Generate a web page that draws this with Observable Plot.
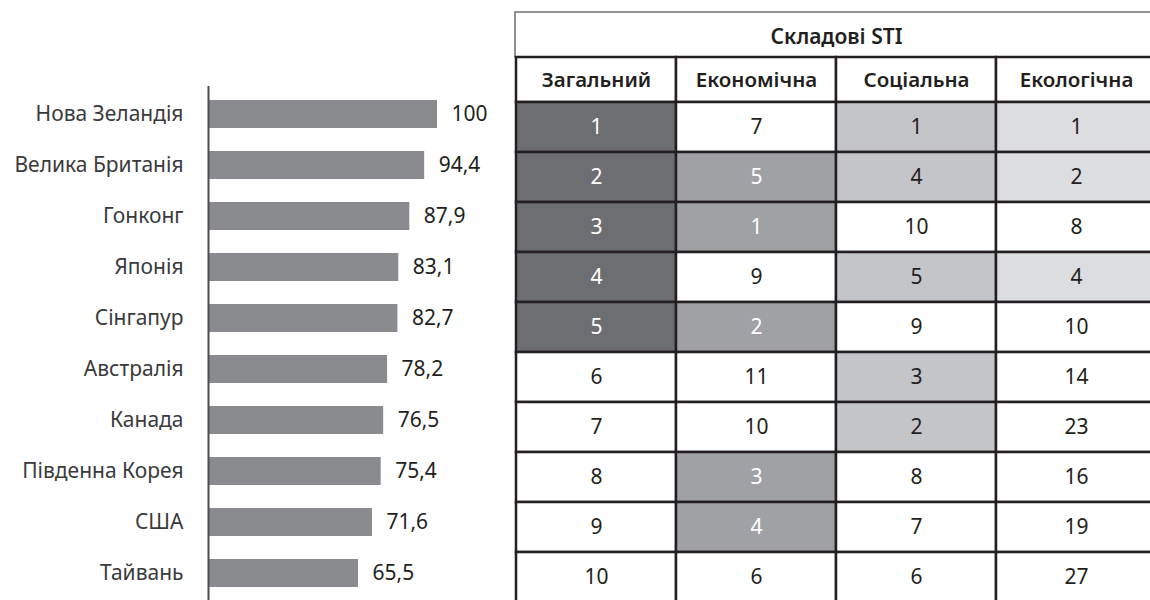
<!DOCTYPE html>
<html>
<head>
<meta charset="utf-8">
<script src="https://cdn.jsdelivr.net/npm/d3@7"></script>
<script src="https://cdn.jsdelivr.net/npm/@observablehq/plot@0.6"></script>
<style>
  html, body { margin: 0; padding: 0; background: #fff; }
  body { width: 1150px; height: 600px; overflow: hidden; position: relative; }
  #bars { position: absolute; left: 0; top: 0; }
  #table { position: absolute; left: 505px; top: 0; width: 652px; height: 600px; overflow: hidden; }
  svg { overflow: visible; }
</style>
</head>
<body>
<div id="bars"></div>
<div id="table"></div>
<script>
// ---- data ----
const countries = ["Нова Зеландія", "Велика Британія", "Гонконг", "Японія", "Сінгапур", "Австралія", "Канада", "Південна Корея", "США", "Тайвань"];
const stiScores = [100, 94.4, 87.9, 83.1, 82.7, 78.2, 76.5, 75.4, 71.6, 65.5];

const tableTitle = "Складові STI";
const columns = ["Загальний", "Економічна", "Соціальна", "Екологічна"];
const overallRank = [1, 2, 3, 4, 5, 6, 7, 8, 9, 10];
const economicRank = [7, 5, 1, 9, 2, 11, 10, 3, 4, 6];
const socialRank = [1, 4, 10, 5, 9, 3, 2, 8, 7, 6];
const ecologicalRank = [1, 2, 8, 4, 10, 14, 23, 16, 19, 27];
const topRankLimit = 5;

// ---- styles ----
const font = "'Noto Sans', 'Open Sans', sans-serif";
const ink = "#231f20";
const colFill = ["#6d6e71", "#a0a1a4", "#c4c5c8", "#dcdddf"];
const colText = ["#ffffff", "#ffffff", ink, ink];
const fmt = v => String(v).replace(".", ",");

// ---- bar chart ----
const barRows = countries.map((c, i) => ({country: c, value: stiScores[i]}));
const bars = Plot.plot({
  width: 515, height: 600,
  marginTop: 86, marginBottom: 0, marginLeft: 208, marginRight: 78,
  style: {fontFamily: font, background: "transparent"},
  x: {domain: [0, 100], axis: null},
  y: {domain: countries, paddingInner: 0.455, paddingOuter: 0.2275, align: 0.5, axis: null},
  marks: [
    Plot.barX(barRows, {x: "value", y: "country", fill: "#8a8b8e", insetLeft: 1}),
    Plot.text(barRows, {x: "value", y: "country", text: d => fmt(d.value), textAnchor: "start", dx: 14, fill: ink, fontSize: 21}),
    Plot.axisY({tickSize: 0, tickPadding: 25, fontSize: 21, fill: "#3a3a3c", label: null}),
    Plot.ruleX([0], {stroke: "#4d4d4f", strokeWidth: 2})
  ]
});
document.getElementById("bars").appendChild(bars);

// ---- table ----
const ranks = [overallRank, economicRank, socialRank, ecologicalRank];
const cells = [];
columns.forEach((col, c) => {
  ranks[c].forEach((v, r) => cells.push({col, c, row: r, value: v, top: v <= topRankLimit}));
});
const titleUnits = 0.9, headUnits = 0.9, startUnits = titleUnits + headUnits;

const table = Plot.plot({
  width: 652, height: 604,
  marginTop: 12, marginBottom: 2, marginLeft: 10, marginRight: 0,
  style: {fontFamily: font, background: "transparent"},
  x: {domain: columns, padding: 0, axis: null},
  y: {domain: [0, startUnits + overallRank.length], reverse: true, axis: null},
  marks: [
    Plot.rect([tableTitle], {y1: 0, y2: titleUnits, fill: "#fff", stroke: "#6d6e71", strokeWidth: 1.5}),
    Plot.barY(columns, {x: d => d, y1: titleUnits, y2: startUnits, fill: "#fff", stroke: ink, strokeWidth: 2.5}),
    Plot.barY(cells, {x: "col", y1: d => startUnits + d.row, y2: d => startUnits + d.row + 1,
      fill: d => d.top ? colFill[d.c] : "#fff", stroke: ink, strokeWidth: 2.5}),
    Plot.text([tableTitle], {y: titleUnits / 2, dy: 2, text: d => d, fontWeight: 600, fontSize: 21, fill: ink}),
    Plot.text(columns, {x: d => d, y: titleUnits + headUnits / 2, text: d => d, fontWeight: 600, fontSize: 20.5, fill: ink}),
    Plot.text(cells, {x: "col", y: d => startUnits + d.row + 0.5, text: d => String(d.value),
      fill: d => d.top ? colText[d.c] : ink, fontSize: 21})
  ]
});
document.getElementById("table").appendChild(table);
</script>
</body>
</html>
